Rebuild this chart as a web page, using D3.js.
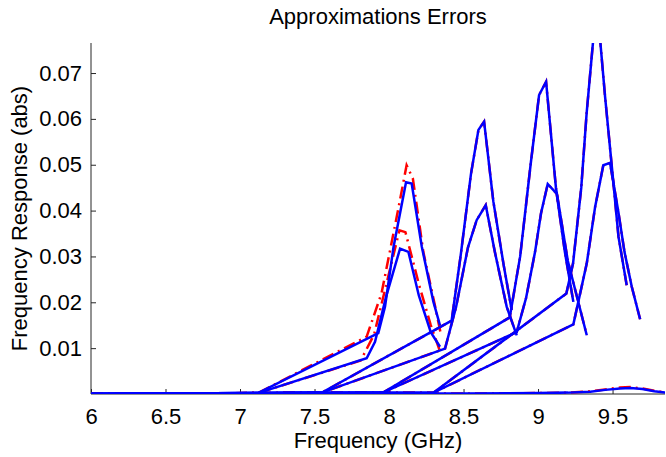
<!DOCTYPE html>
<html>
<head>
<meta charset="utf-8">
<script src="https://cdn.jsdelivr.net/npm/d3@7"></script>
<style>
  body { margin: 0; background: #fff; }
  text { font-family: "Liberation Sans", Arial, Helvetica, sans-serif; fill: #000; }
  .axis path, .axis line { stroke: #262626; stroke-width: 1; }
</style>
</head>
<body>
<svg id="chart" width="666" height="457"></svg>
<script>
// frequency (GHz) / amplitude pairs, one array pair per traced curve

// approximation (blue)
const fM1Hi = [6, 7.12, 7.928, 7.973, 8.03, 8.114, 8.152, 8.22, 8.298, 8.342];
const vM1Hi = [0, 0.0002, 0.0133, 0.019, 0.032, 0.0462, 0.0459, 0.0321, 0.0201, 0.015];
const fM1Lo = [6, 7.12, 7.85, 7.906, 7.98, 8.074, 8.13, 8.2, 8.28, 8.342];
const vM1Lo = [0, 0.0002, 0.0078, 0.0114, 0.0212, 0.0317, 0.031, 0.0215, 0.0135, 0.0103];
const fM2Hi = [6, 7.55, 8.42, 8.48, 8.55, 8.6, 8.638, 8.7, 8.77, 8.823];
const vM2Hi = [0, 0.0003, 0.016, 0.03, 0.048, 0.0576, 0.0594, 0.042, 0.028, 0.0183];
const fM2Lo = [6, 7.55, 8.376, 8.45, 8.53, 8.588, 8.649, 8.71, 8.79, 8.857];
const vM2Lo = [0, 0.0003, 0.0099, 0.019, 0.032, 0.0379, 0.0412, 0.031, 0.019, 0.0128];
const fM3Hi = [6, 7.96, 8.81, 8.88, 8.95, 9.007, 9.054, 9.12, 9.2, 9.327];
const vM3Hi = [0, 0.0003, 0.0167, 0.03, 0.05, 0.0652, 0.0681, 0.045, 0.029, 0.0128];
const fM3Lo = [6, 7.96, 8.857, 8.92, 8.98, 9.02, 9.065, 9.125, 9.18, 9.237];
const vM3Lo = [0, 0.0003, 0.0135, 0.021, 0.031, 0.0394, 0.0458, 0.0437, 0.031, 0.0201];
const fM4Hi = [6, 8.3, 9.19, 9.235, 9.29, 9.326, 9.371, 9.416, 9.45, 9.5, 9.54, 9.595];
const vM4Hi = [0, 0.0003, 0.0219, 0.0285, 0.045, 0.0612, 0.0775, 0.0775, 0.0648, 0.048, 0.0343, 0.0237];
const fM4Lo = [6, 8.3, 9.237, 9.327, 9.383, 9.438, 9.483, 9.539, 9.58, 9.629, 9.685];
const vM4Lo = [0, 0.0003, 0.0152, 0.0285, 0.0408, 0.0499, 0.0504, 0.0397, 0.031, 0.0234, 0.0163];
const fBase = [6, 6.5, 7, 7.5, 8, 8.5, 9, 9.2, 9.35, 9.45, 9.55, 9.62, 9.7, 9.78, 9.86];
const vBase = [0, 0, 0.0001, 0.0001, 0.0001, 0.0001, 0.0002, 0.0003, 0.0005, 0.0009, 0.0012, 0.0013, 0.0011, 0.0006, 0.0003];

// reference (red dash-dot) where it differs from the approximation
const fRefM1Hi = [6, 7.12, 7.85, 7.95, 8.06, 8.118, 8.16, 8.23, 8.31, 8.345];
const vRefM1Hi = [0, 0.0002, 0.0125, 0.022, 0.04, 0.0499, 0.047, 0.031, 0.019, 0.0135];
const fRefM1Lo = [6, 7.12, 7.81, 7.9, 7.99, 8.07, 8.11, 8.2, 8.28, 8.34];
const vRefM1Lo = [0, 0.0002, 0.0073, 0.013, 0.025, 0.0357, 0.0353, 0.024, 0.015, 0.0095];
const vRefBase = [0, 0, 0.0001, 0.0001, 0.0001, 0.0001, 0.0002, 0.0003, 0.0006, 0.001, 0.0014, 0.0015, 0.0012, 0.0007, 0.0003];

const xTicks = [6, 6.5, 7, 7.5, 8, 8.5, 9, 9.5];
const yTicks = [0.01, 0.02, 0.03, 0.04, 0.05, 0.06, 0.07];

const zip = (f, v) => f.map((d, i) => ({ f: d, v: v[i] }));

const blueCurves = [
  zip(fBase, vBase),
  zip(fM1Hi, vM1Hi), zip(fM1Lo, vM1Lo),
  zip(fM2Hi, vM2Hi), zip(fM2Lo, vM2Lo),
  zip(fM3Hi, vM3Hi), zip(fM3Lo, vM3Lo),
  zip(fM4Hi, vM4Hi), zip(fM4Lo, vM4Lo)
];
const redCurves = [
  zip(fBase, vRefBase),
  zip(fRefM1Hi, vRefM1Hi), zip(fRefM1Lo, vRefM1Lo),
  zip(fM2Hi, vM2Hi), zip(fM2Lo, vM2Lo),
  zip(fM3Hi, vM3Hi), zip(fM3Lo, vM3Lo),
  zip(fM4Hi, vM4Hi), zip(fM4Lo, vM4Lo)
];

const margin = { top: 43, right: 1, bottom: 63, left: 91 };
const width = 666, height = 457;

const svg = d3.select("#chart");

const xScale = d3.scaleLinear()
  .domain([6, 9.852])
  .range([margin.left, width - margin.right]);

const yScale = d3.scaleLinear()
  .domain([0, 0.07655])
  .range([height - margin.bottom, margin.top]);

svg.append("defs").append("clipPath")
  .attr("id", "plot-clip")
  .append("rect")
  .attr("x", margin.left)
  .attr("y", margin.top)
  .attr("width", width - margin.right - margin.left)
  .attr("height", height - margin.bottom - margin.top);

// + AXES
const xAxis = d3.axisBottom(xScale).tickValues(xTicks).tickSize(-5).tickSizeOuter(0).tickPadding(14)
  .tickFormat(d3.format(""));
const yAxis = d3.axisLeft(yScale).tickValues(yTicks).tickSize(-5).tickSizeOuter(0).tickPadding(9)
  .tickFormat(d3.format(".2f"));

svg.append("g")
  .attr("class", "axis x-axis")
  .attr("transform", `translate(0,${yScale(0)})`)
  .call(xAxis)
  .call(g => g.select(".domain").attr("d", `M${xScale.range()[0]},0H${xScale.range()[1]}`))
  .selectAll("text")
    .style("font-size", "22px");

svg.append("g")
  .attr("class", "axis y-axis")
  .attr("transform", `translate(${margin.left},0)`)
  .call(yAxis)
  .call(g => g.select(".domain").attr("d", `M0,${yScale.range()[0]}V${yScale.range()[1]}`))
  .selectAll("text")
    .style("font-size", "22px");

const lineFunc = d3.line()
  .x(d => xScale(d.f))
  .y(d => yScale(d.v));

const plot = svg.append("g").attr("clip-path", "url(#plot-clip)");

plot.selectAll("path.ref")
  .data(redCurves)
  .join("path")
  .attr("class", "ref")
  .attr("fill", "none")
  .attr("stroke", "#ff0000")
  .attr("stroke-width", 2.5)
  .attr("stroke-dasharray", "12,5,2,5")
  .attr("d", d => lineFunc(d));

plot.selectAll("path.approx")
  .data(blueCurves)
  .join("path")
  .attr("class", "approx")
  .attr("fill", "none")
  .attr("stroke", "#0000ff")
  .attr("stroke-width", 2.5)
  .attr("stroke-linejoin", "miter")
  .attr("d", d => lineFunc(d));

// labels
svg.append("text")
  .attr("x", 378)
  .attr("y", 24)
  .attr("text-anchor", "middle")
  .style("font-size", "22px")
  .text("Approximations Errors");

svg.append("text")
  .attr("x", 378)
  .attr("y", 448)
  .attr("text-anchor", "middle")
  .style("font-size", "22px")
  .text("Frequency (GHz)");

svg.append("text")
  .attr("transform", `translate(27,${(yScale.range()[0] + yScale.range()[1]) / 2}) rotate(-90)`)
  .attr("text-anchor", "middle")
  .style("font-size", "22px")
  .text("Frequency Response (abs)");
</script>
</body>
</html>
